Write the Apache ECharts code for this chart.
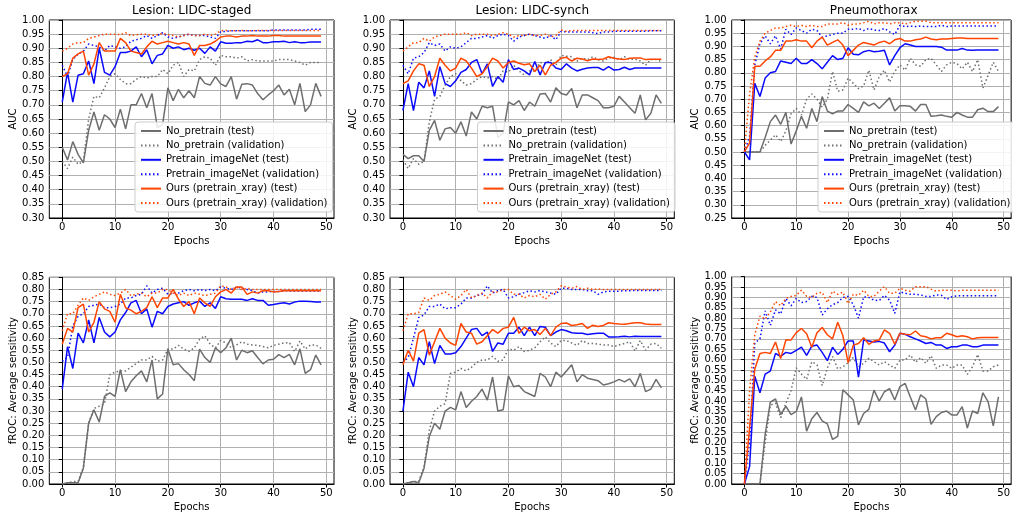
<!DOCTYPE html>
<html>
<head>
<meta charset="utf-8">
<script src="https://cdn.jsdelivr.net/npm/echarts@6/dist/echarts.min.js"></script>
<style>
html,body{margin:0;padding:0;background:#fff;}
#chart{width:1013px;height:514px;}
</style>
</head>
<body>
<div id="chart"></div>
<script>
// ---------------- DATA ----------------
const epochs = [0,1,2,3,4,5,6,7,8,9,10,11,12,13,14,15,16,17,18,19,20,21,22,23,24,25,26,27,28,29,30,31,32,33,34,35,36,37,38,39,40,41,42,43,44,45,46,47,48,49];
const xTickValues = [0,10,20,30,40,50];
const panelTitles = ['Lesion: LIDC-staged','Lesion: LIDC-synch','Pneumothorax'];
const yAxisNames = ['AUC','AUC','AUC','fROC: Average sensitivity','fROC: Average sensitivity','fROC: Average sensitivity'];
const seriesNames = ['No_pretrain (test)','No_pretrain (validation)','Pretrain_imageNet (test)','Pretrain_imageNet (validation)','Ours (pretrain_xray) (test)','Ours (pretrain_xray) (validation)'];

// Panel 1: Lesion LIDC-staged, AUC
const stagedAucNoTest = [0.55,0.505,0.57,0.525,0.495,0.61,0.675,0.61,0.665,0.65, 0.62,0.685,0.615,0.70,0.70,0.74,0.69,0.74,0.62,0.63, 0.76,0.715,0.755,0.725,0.75,0.725,0.80,0.776,0.77,0.80, 0.774,0.765,0.80,0.72,0.773,0.775,0.77,0.74,0.718,0.735, 0.75,0.77,0.735,0.755,0.70,0.776,0.676,0.70,0.776,0.73];
const stagedAucNoVal = [0.50,0.475,0.515,0.49,0.50,0.65,0.73,0.725,0.76,0.80, 0.81,0.79,0.775,0.775,0.79,0.80,0.795,0.80,0.80,0.825, 0.81,0.84,0.85,0.80,0.825,0.82,0.86,0.87,0.865,0.84, 0.875,0.87,0.87,0.865,0.87,0.855,0.86,0.855,0.855,0.855, 0.855,0.86,0.86,0.86,0.855,0.85,0.84,0.85,0.85,0.85];
const stagedAucImTest = [0.71,0.815,0.71,0.805,0.81,0.855,0.775,0.90,0.815,0.805, 0.835,0.885,0.885,0.89,0.905,0.87,0.895,0.845,0.875,0.88, 0.91,0.90,0.905,0.895,0.90,0.893,0.90,0.882,0.905,0.89, 0.923,0.918,0.918,0.92,0.92,0.925,0.923,0.93,0.92,0.92, 0.923,0.923,0.925,0.92,0.923,0.92,0.92,0.922,0.922,0.922];
const stagedAucImVal = [0.84,0.80,0.86,0.88,0.89,0.915,0.91,0.905,0.89,0.91, 0.905,0.90,0.905,0.925,0.93,0.935,0.945,0.935,0.945,0.955, 0.94,0.935,0.94,0.945,0.95,0.945,0.945,0.945,0.94,0.935, 0.958,0.96,0.962,0.962,0.962,0.962,0.962,0.962,0.962,0.962, 0.965,0.965,0.965,0.965,0.965,0.965,0.965,0.967,0.967,0.967];
const stagedAucOursTest = [0.80,0.81,0.865,0.88,0.89,0.805,0.845,0.92,0.89,0.89, 0.89,0.935,0.92,0.89,0.885,0.88,0.905,0.925,0.915,0.92, 0.925,0.92,0.915,0.92,0.915,0.875,0.91,0.91,0.915,0.925, 0.94,0.943,0.943,0.94,0.943,0.943,0.945,0.943,0.943,0.943, 0.945,0.945,0.943,0.943,0.943,0.943,0.943,0.943,0.943,0.943];
const stagedAucOursVal = [0.89,0.90,0.915,0.92,0.92,0.935,0.94,0.945,0.95,0.95, 0.95,0.948,0.955,0.945,0.948,0.95,0.95,0.945,0.948,0.953, 0.948,0.945,0.94,0.945,0.95,0.945,0.945,0.95,0.945,0.95, 0.962,0.963,0.962,0.962,0.963,0.962,0.962,0.963,0.963,0.963, 0.963,0.963,0.963,0.963,0.963,0.963,0.963,0.963,0.963,0.963];

// Panel 2: Lesion LIDC-synch, AUC
const synchAucNoTest = [0.525,0.51,0.52,0.52,0.50,0.61,0.645,0.575,0.615,0.62, 0.60,0.64,0.59,0.675,0.65,0.695,0.69,0.695,0.585,0.60, 0.71,0.70,0.715,0.68,0.71,0.695,0.738,0.74,0.71,0.76, 0.74,0.735,0.758,0.69,0.735,0.735,0.725,0.715,0.69,0.69, 0.695,0.73,0.71,0.69,0.67,0.735,0.647,0.67,0.735,0.705];
const synchAucNoVal = [0.505,0.475,0.51,0.49,0.50,0.64,0.72,0.73,0.77,0.80, 0.81,0.785,0.77,0.775,0.79,0.80,0.795,0.80,0.79,0.82, 0.815,0.84,0.82,0.806,0.82,0.82,0.85,0.845,0.86,0.84, 0.875,0.872,0.87,0.855,0.865,0.86,0.87,0.86,0.855,0.865, 0.868,0.86,0.87,0.86,0.862,0.855,0.84,0.86,0.86,0.853];
const synchAucImTest = [0.68,0.775,0.68,0.78,0.76,0.82,0.73,0.835,0.775,0.765, 0.785,0.815,0.825,0.85,0.86,0.81,0.845,0.765,0.80,0.78, 0.86,0.825,0.83,0.82,0.806,0.853,0.806,0.85,0.85,0.83, 0.825,0.845,0.83,0.82,0.826,0.83,0.832,0.832,0.823,0.835, 0.823,0.825,0.833,0.825,0.83,0.83,0.83,0.83,0.83,0.83];
const synchAucImVal = [0.84,0.81,0.865,0.87,0.885,0.92,0.91,0.915,0.89,0.905, 0.90,0.905,0.92,0.935,0.935,0.94,0.945,0.935,0.945,0.95, 0.945,0.925,0.94,0.945,0.95,0.945,0.94,0.935,0.945,0.93, 0.96,0.958,0.958,0.958,0.958,0.958,0.955,0.952,0.958,0.958, 0.96,0.96,0.96,0.96,0.96,0.96,0.96,0.962,0.962,0.962];
const synchAucOursTest = [0.775,0.785,0.82,0.845,0.84,0.765,0.80,0.865,0.84,0.82, 0.83,0.865,0.855,0.83,0.80,0.81,0.835,0.865,0.855,0.83, 0.85,0.855,0.847,0.842,0.845,0.818,0.84,0.806,0.84,0.85, 0.865,0.868,0.855,0.865,0.862,0.856,0.862,0.86,0.862,0.87, 0.865,0.862,0.86,0.865,0.866,0.866,0.86,0.861,0.861,0.861];
const synchAucOursVal = [0.89,0.905,0.92,0.92,0.935,0.925,0.94,0.945,0.95,0.95, 0.95,0.95,0.955,0.945,0.95,0.95,0.95,0.945,0.95,0.955, 0.95,0.94,0.945,0.945,0.95,0.945,0.945,0.95,0.94,0.945, 0.965,0.96,0.963,0.963,0.963,0.963,0.963,0.963,0.963,0.963, 0.963,0.963,0.963,0.963,0.963,0.963,0.963,0.963,0.963,0.963];

// Panel 3: Pneumothorax, AUC
const pneuAucNoTest = [0.50,0.50,0.50,0.50,0.555,0.615,0.64,0.605,0.65,0.53, 0.58,0.635,0.59,0.665,0.615,0.71,0.655,0.645,0.655,0.655, 0.68,0.665,0.65,0.69,0.675,0.685,0.665,0.685,0.705,0.655, 0.675,0.675,0.673,0.655,0.68,0.68,0.635,0.637,0.64,0.635, 0.632,0.65,0.64,0.632,0.632,0.66,0.666,0.653,0.653,0.672];
const pneuAucNoVal = [0.50,0.50,0.50,0.50,0.525,0.545,0.565,0.54,0.58,0.645, 0.665,0.64,0.70,0.72,0.70,0.67,0.70,0.805,0.73,0.735, 0.78,0.76,0.74,0.75,0.81,0.735,0.785,0.81,0.765,0.805, 0.83,0.81,0.855,0.83,0.825,0.85,0.855,0.83,0.805,0.83, 0.84,0.835,0.815,0.84,0.805,0.85,0.742,0.79,0.84,0.805];
const pneuAucImTest = [0.50,0.47,0.76,0.71,0.78,0.80,0.805,0.845,0.84,0.835, 0.855,0.835,0.835,0.85,0.835,0.815,0.84,0.865,0.85,0.855, 0.895,0.87,0.868,0.88,0.885,0.88,0.882,0.885,0.83,0.865, 0.895,0.91,0.905,0.90,0.90,0.90,0.90,0.90,0.897,0.886, 0.886,0.886,0.892,0.886,0.885,0.886,0.886,0.886,0.886,0.886];
const pneuAucImVal = [0.50,0.56,0.83,0.91,0.94,0.91,0.94,0.89,0.965,0.945, 0.97,0.96,0.95,0.965,0.96,0.935,0.94,0.945,0.95,0.95, 0.965,0.965,0.968,0.96,0.968,0.962,0.96,0.968,0.955,0.945, 0.98,0.975,0.977,0.975,0.977,0.975,0.975,0.975,0.98,0.975, 0.977,0.977,0.977,0.977,0.977,0.977,0.977,0.977,0.977,0.977];
const pneuAucOursTest = [0.50,0.535,0.825,0.825,0.845,0.86,0.885,0.885,0.92,0.92, 0.925,0.92,0.92,0.895,0.92,0.935,0.905,0.915,0.925,0.905, 0.865,0.885,0.905,0.915,0.91,0.905,0.915,0.92,0.91,0.925, 0.93,0.92,0.92,0.925,0.928,0.935,0.928,0.925,0.928,0.928, 0.93,0.932,0.932,0.93,0.93,0.93,0.93,0.93,0.93,0.93];
const pneuAucOursVal = [0.50,0.72,0.86,0.92,0.95,0.96,0.97,0.97,0.975,0.98, 0.975,0.98,0.975,0.98,0.975,0.975,0.985,0.985,0.985,0.99, 0.98,0.985,0.985,0.99,0.995,0.985,0.99,0.99,0.985,0.99, 0.99,0.985,0.99,0.995,0.995,0.995,0.99,0.99,0.99,0.99, 0.99,0.99,0.99,0.99,0.99,0.99,0.99,0.99,0.99,0.99];

// Panel 4: Lesion LIDC-staged, fROC
const stagedFrocNoTest = [0.00,0.005,0.005,0.005,0.065,0.25,0.305,0.255,0.36,0.375, 0.36,0.47,0.38,0.42,0.445,0.465,0.42,0.51,0.35,0.37, 0.555,0.49,0.495,0.47,0.45,0.425,0.555,0.52,0.50,0.56, 0.54,0.56,0.60,0.51,0.55,0.54,0.548,0.52,0.494,0.51, 0.513,0.532,0.52,0.533,0.49,0.556,0.455,0.47,0.53,0.49];
const stagedFrocNoVal = [0.00,0.005,0.01,0.01,0.07,0.25,0.31,0.32,0.33,0.45, 0.46,0.465,0.465,0.48,0.495,0.51,0.51,0.525,0.505,0.51, 0.555,0.555,0.57,0.555,0.545,0.56,0.595,0.61,0.575,0.56, 0.59,0.58,0.56,0.572,0.585,0.575,0.572,0.57,0.565,0.56, 0.57,0.575,0.58,0.582,0.545,0.588,0.555,0.572,0.572,0.558];
const stagedFrocImTest = [0.39,0.565,0.475,0.62,0.58,0.675,0.58,0.685,0.625,0.605, 0.625,0.675,0.705,0.745,0.755,0.70,0.72,0.645,0.71,0.70, 0.73,0.74,0.745,0.75,0.735,0.745,0.752,0.73,0.745,0.722, 0.77,0.762,0.76,0.76,0.76,0.755,0.762,0.755,0.755,0.735, 0.738,0.742,0.745,0.74,0.748,0.752,0.752,0.75,0.748,0.748];
const stagedFrocImVal = [0.505,0.52,0.65,0.69,0.70,0.73,0.735,0.74,0.725,0.725, 0.73,0.74,0.765,0.765,0.775,0.78,0.815,0.785,0.80,0.805, 0.78,0.785,0.785,0.795,0.80,0.795,0.80,0.795,0.80,0.795, 0.81,0.805,0.80,0.81,0.805,0.80,0.795,0.785,0.79,0.79, 0.792,0.792,0.795,0.794,0.794,0.794,0.794,0.794,0.794,0.794];
const stagedFrocOursTest = [0.575,0.64,0.625,0.725,0.74,0.625,0.665,0.75,0.72,0.71, 0.665,0.78,0.725,0.715,0.70,0.71,0.725,0.77,0.725,0.765, 0.765,0.80,0.76,0.73,0.75,0.70,0.765,0.745,0.73,0.77, 0.79,0.80,0.785,0.81,0.81,0.78,0.79,0.785,0.795,0.795, 0.79,0.792,0.795,0.795,0.795,0.795,0.795,0.795,0.795,0.795];
const stagedFrocOursVal = [0.63,0.70,0.70,0.735,0.765,0.755,0.77,0.78,0.79,0.78, 0.775,0.785,0.80,0.775,0.78,0.785,0.77,0.785,0.785,0.80, 0.80,0.785,0.775,0.785,0.775,0.785,0.78,0.775,0.78,0.785, 0.815,0.81,0.80,0.81,0.80,0.805,0.80,0.80,0.80,0.80, 0.80,0.80,0.80,0.80,0.80,0.80,0.80,0.80,0.80,0.80];

// Panel 5: Lesion LIDC-synch, fROC
const synchFrocNoTest = [0.00,0.005,0.01,0.005,0.065,0.195,0.25,0.225,0.30,0.315, 0.305,0.38,0.315,0.34,0.36,0.39,0.345,0.44,0.30,0.305, 0.445,0.40,0.405,0.38,0.37,0.36,0.455,0.44,0.40,0.46, 0.44,0.465,0.49,0.42,0.45,0.435,0.43,0.425,0.407,0.412, 0.42,0.43,0.42,0.432,0.40,0.455,0.38,0.39,0.43,0.395];
const synchFrocNoVal = [0.00,0.005,0.01,0.01,0.07,0.22,0.30,0.32,0.33,0.455, 0.46,0.475,0.465,0.48,0.50,0.51,0.51,0.525,0.505,0.51, 0.555,0.55,0.565,0.545,0.55,0.56,0.585,0.605,0.58,0.565, 0.59,0.59,0.58,0.57,0.59,0.578,0.578,0.575,0.572,0.572, 0.565,0.572,0.578,0.585,0.547,0.59,0.55,0.575,0.578,0.558];
const synchFrocImTest = [0.30,0.46,0.40,0.52,0.49,0.585,0.495,0.57,0.535,0.535, 0.54,0.565,0.60,0.635,0.64,0.61,0.625,0.545,0.58,0.575, 0.62,0.62,0.645,0.61,0.645,0.61,0.648,0.645,0.61,0.625, 0.635,0.63,0.622,0.62,0.62,0.615,0.618,0.62,0.62,0.605, 0.605,0.606,0.608,0.605,0.608,0.607,0.607,0.607,0.607,0.607];
const synchFrocImVal = [0.50,0.52,0.60,0.685,0.695,0.73,0.73,0.74,0.72,0.725, 0.725,0.74,0.765,0.765,0.775,0.78,0.815,0.785,0.795,0.80, 0.765,0.77,0.78,0.787,0.795,0.79,0.795,0.79,0.785,0.78, 0.805,0.805,0.80,0.80,0.80,0.795,0.795,0.78,0.79,0.793, 0.793,0.793,0.795,0.795,0.796,0.796,0.796,0.796,0.796,0.796];
const synchFrocOursTest = [0.49,0.55,0.505,0.62,0.635,0.53,0.585,0.64,0.60,0.58, 0.57,0.66,0.625,0.62,0.575,0.585,0.61,0.635,0.62,0.64, 0.645,0.685,0.62,0.645,0.63,0.635,0.615,0.64,0.61,0.645, 0.66,0.662,0.652,0.655,0.66,0.64,0.653,0.648,0.652,0.663, 0.66,0.658,0.657,0.66,0.663,0.663,0.658,0.656,0.656,0.656];
const synchFrocOursVal = [0.63,0.70,0.70,0.705,0.765,0.755,0.775,0.78,0.79,0.775, 0.76,0.775,0.80,0.765,0.775,0.785,0.765,0.79,0.79,0.80, 0.80,0.78,0.78,0.765,0.775,0.77,0.78,0.76,0.78,0.79, 0.815,0.81,0.805,0.812,0.80,0.805,0.80,0.802,0.80,0.80, 0.80,0.80,0.80,0.80,0.80,0.80,0.80,0.80,0.80,0.80];

// Panel 6: Pneumothorax, fROC
const pneuFrocNoTest = [0.00,0.00,0.00,0.00,0.24,0.395,0.41,0.335,0.375,0.335, 0.35,0.42,0.255,0.315,0.345,0.305,0.29,0.215,0.23,0.455, 0.43,0.405,0.285,0.34,0.36,0.453,0.40,0.445,0.46,0.405, 0.47,0.485,0.42,0.357,0.43,0.41,0.288,0.325,0.345,0.352, 0.333,0.333,0.373,0.27,0.352,0.34,0.44,0.397,0.28,0.42];
const pneuFrocNoVal = [0.00,0.00,0.00,0.00,0.20,0.38,0.39,0.32,0.39,0.45, 0.56,0.53,0.505,0.59,0.575,0.475,0.56,0.615,0.555,0.565, 0.585,0.61,0.566,0.582,0.606,0.59,0.574,0.59,0.574,0.558, 0.598,0.598,0.622,0.587,0.61,0.582,0.619,0.558,0.574,0.574, 0.558,0.574,0.574,0.529,0.566,0.625,0.545,0.545,0.566,0.574];
const pneuFrocImTest = [0.00,0.085,0.52,0.44,0.53,0.545,0.63,0.615,0.635,0.63, 0.645,0.66,0.62,0.665,0.67,0.635,0.595,0.66,0.625,0.65, 0.69,0.69,0.515,0.695,0.69,0.685,0.688,0.68,0.638,0.67, 0.727,0.722,0.71,0.70,0.69,0.678,0.683,0.67,0.67,0.654, 0.662,0.662,0.67,0.67,0.662,0.662,0.67,0.67,0.67,0.67];
const pneuFrocImVal = [0.00,0.20,0.68,0.70,0.835,0.765,0.84,0.82,0.895,0.86, 0.895,0.875,0.88,0.905,0.90,0.815,0.845,0.865,0.875,0.90, 0.905,0.865,0.80,0.903,0.90,0.887,0.885,0.91,0.887,0.823, 0.927,0.92,0.915,0.915,0.912,0.905,0.905,0.912,0.91,0.89, 0.903,0.908,0.908,0.908,0.908,0.908,0.908,0.908,0.908,0.908];
const pneuFrocOursTest = [0.00,0.27,0.555,0.63,0.635,0.63,0.685,0.605,0.695,0.695, 0.73,0.75,0.725,0.66,0.73,0.755,0.72,0.70,0.78,0.715, 0.585,0.67,0.678,0.706,0.674,0.69,0.695,0.743,0.727,0.674, 0.727,0.722,0.72,0.738,0.715,0.71,0.70,0.706,0.706,0.727, 0.72,0.71,0.715,0.71,0.70,0.706,0.707,0.707,0.707,0.707];
const pneuFrocOursVal = [0.00,0.45,0.72,0.81,0.795,0.83,0.88,0.86,0.895,0.905, 0.91,0.935,0.905,0.90,0.92,0.925,0.875,0.93,0.915,0.925, 0.87,0.915,0.91,0.935,0.905,0.905,0.93,0.952,0.92,0.92, 0.944,0.935,0.93,0.952,0.952,0.952,0.94,0.93,0.935,0.935, 0.935,0.932,0.935,0.935,0.935,0.935,0.935,0.935,0.935,0.935];

const yRanges = [[0.30,1.00],[0.30,1.00],[0.25,1.00],[0.00,0.85],[0.00,0.85],[0.00,1.00]];

const panelSeries = [
  [stagedAucNoTest, stagedAucNoVal, stagedAucImTest, stagedAucImVal, stagedAucOursTest, stagedAucOursVal],
  [synchAucNoTest, synchAucNoVal, synchAucImTest, synchAucImVal, synchAucOursTest, synchAucOursVal],
  [pneuAucNoTest, pneuAucNoVal, pneuAucImTest, pneuAucImVal, pneuAucOursTest, pneuAucOursVal],
  [stagedFrocNoTest, stagedFrocNoVal, stagedFrocImTest, stagedFrocImVal, stagedFrocOursTest, stagedFrocOursVal],
  [synchFrocNoTest, synchFrocNoVal, synchFrocImTest, synchFrocImVal, synchFrocOursTest, synchFrocOursVal],
  [pneuFrocNoTest, pneuFrocNoVal, pneuFrocImTest, pneuFrocImVal, pneuFrocOursTest, pneuFrocOursVal]
];

// ---------------- STYLE / LAYOUT ----------------
const FONT = 'DejaVu Sans';
const colors = ['#6e6e6e','#6e6e6e','#0a0aff','#0a0aff','#ff4500','#ff4500'];
const dotted = [1.5, 2.5];
const lineTypes = ['solid', dotted, 'solid', dotted, 'solid', dotted];

const grids = [
  {left: 49.3, top: 20, width: 284.7, height: 198},
  {left: 390, top: 20, width: 284.3, height: 198},
  {left: 731.7, top: 20, width: 284, height: 198},
  {left: 49.3, top: 277.3, width: 284.7, height: 206.7},
  {left: 390, top: 277.3, width: 284.3, height: 206.7},
  {left: 731.7, top: 276.7, width: 284, height: 207.3}
];

const gridLine = {show: true, lineStyle: {color: '#b0b0b0', width: 1}};
const xAxes = grids.map((g, i) => ({
  type: 'value', gridIndex: i, min: -2.45, max: 51.45,
  axisLine: {show: true, lineStyle: {color: '#000', width: 1}},
  axisTick: {show: true, customValues: xTickValues, length: 3.5, lineStyle: {color: '#000'}},
  axisLabel: {customValues: xTickValues, fontSize: 10, color: '#000', fontFamily: FONT, margin: 4},
  splitLine: gridLine,
  name: 'Epochs', nameLocation: 'middle', nameGap: 18,
  nameTextStyle: {fontSize: 10, color: '#000', fontFamily: FONT}
}));
const yAxes = grids.map((g, i) => ({
  type: 'value', gridIndex: i, min: yRanges[i][0], max: yRanges[i][1], interval: 0.05,
  axisLine: {show: true, lineStyle: {color: '#000', width: 1}},
  axisTick: {show: true, length: 3.5, lineStyle: {color: '#000'}},
  axisLabel: {fontSize: 10, color: '#000', fontFamily: FONT, margin: 5, formatter: v => v.toFixed(2)},
  splitLine: gridLine,
  name: yAxisNames[i], nameLocation: 'middle', nameGap: i < 3 ? 31 : 29,
  nameTextStyle: {fontSize: 10, color: '#000', fontFamily: FONT}
}));

const series = [];
panelSeries.forEach((arrs, p) => {
  arrs.forEach((arr, k) => {
    series.push({
      type: 'line', name: seriesNames[k], xAxisIndex: p, yAxisIndex: p,
      data: epochs.map((e, j) => [e, arr[j]]),
      symbol: 'none', showSymbol: false, animation: false, silent: true,
      lineStyle: {color: colors[k], width: 1.5, type: lineTypes[k]},
      itemStyle: {color: colors[k]},
      z: 2 + k * 0.01
    });
  });
});

const legendLefts = [135, 477.5, 818];
const legends = legendLefts.map(l => ({
  orient: 'vertical', left: l, top: 122, data: seriesNames,
  itemWidth: 20, itemHeight: 12, itemGap: 2.4,
  padding: [3, 5, 3, 5],
  backgroundColor: 'rgba(255,255,255,0.85)', borderColor: '#cccccc', borderWidth: 1, borderRadius: 3,
  selectedMode: false,
  itemStyle: {opacity: 0, color: 'rgba(0,0,0,0)', borderWidth: 0},
  textStyle: {fontSize: 10, color: '#000', fontFamily: FONT, lineHeight: 12}
}));

const titleCenters = [191.7, 532.2, 873.7];
const graphics = panelTitles.map((t, i) => ({
  type: 'text', x: titleCenters[i], y: 11,
  style: {text: t, fill: '#000', font: '12px "DejaVu Sans"', align: 'center', verticalAlign: 'middle'}
}));

const chart = echarts.init(document.getElementById('chart'), null, {renderer: 'canvas'});
chart.setOption({
  animation: false,
  backgroundColor: '#fff',
  textStyle: {fontFamily: FONT},
  grid: grids.map(g => Object.assign({show: true, borderColor: '#000', borderWidth: 1, backgroundColor: 'transparent'}, g)),
  xAxis: xAxes,
  yAxis: yAxes,
  legend: legends,
  graphic: graphics,
  series: series
});
</script>
</body>
</html>
